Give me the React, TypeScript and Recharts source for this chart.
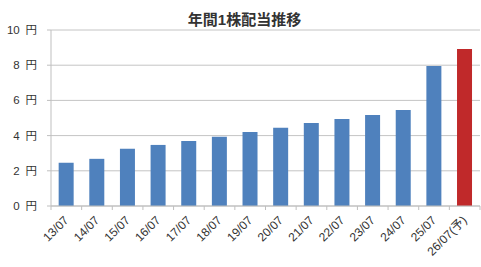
import React from "react";
import { BarChart, Bar, XAxis, YAxis, CartesianGrid, Cell } from "recharts";

const categories = ["13/07", "14/07", "15/07", "16/07", "17/07", "18/07", "19/07", "20/07", "21/07", "22/07", "23/07", "24/07", "25/07", "26/07(予)"];
const dividends = [2.46, 2.68, 3.25, 3.47, 3.7, 3.93, 4.2, 4.44, 4.72, 4.95, 5.17, 5.46, 7.95, 8.92];
const forecastFlags = [false, false, false, false, false, false, false, false, false, false, false, false, false, true];
const yTicks = [0, 2, 4, 6, 8, 10];

const data = categories.map((c, i) => ({ name: c, value: dividends[i], forecast: forecastFlags[i] }));

const W = 481;
const H = 267;
const Y_AXIS_W = 51;
const MARGIN_RIGHT = 1;
const BAND = (W - Y_AXIS_W - MARGIN_RIGHT) / categories.length;
const FONT = "'Liberation Sans', 'Noto Sans CJK JP', sans-serif";

const XTick = (props: any) => {
  const { x, y, payload, index } = props;
  const axisY = y;
  const tx = x + 3;
  const ty = axisY + 15;
  return (
    <g>
      <line x1={x - BAND / 2} y1={axisY} x2={x - BAND / 2} y2={axisY + 4} stroke="#bfbfbf" />
      {index === categories.length - 1 && (
        <line x1={x + BAND / 2} y1={axisY} x2={x + BAND / 2} y2={axisY + 4} stroke="#bfbfbf" />
      )}
      <text
        x={tx}
        y={ty}
        textAnchor="end"
        transform={`rotate(-45, ${tx}, ${ty})`}
        fontSize={12}
        fill="#333"
        fontFamily={FONT}
      >
        {payload.value}
      </text>
    </g>
  );
};

export default function App() {
  return (
    <div style={{ position: "absolute", left: 0, top: 0, width: W, height: H, background: "#fff" }}>
      <div
        style={{
          position: "absolute",
          left: 4,
          top: 11,
          width: W,
          textAlign: "center",
          fontFamily: FONT,
          fontWeight: "bold",
          fontSize: 15,
          lineHeight: "18px",
          color: "#333",
        }}
      >
        年間1株配当推移
      </div>
      <BarChart
        width={W}
        height={H}
        data={data}
        margin={{ top: 30, right: MARGIN_RIGHT, bottom: 0, left: 0 }}
        barCategoryGap="25%"
      >
        <CartesianGrid vertical={false} stroke="#c4c4c4" strokeWidth={1} />
        <XAxis
          dataKey="name"
          height={61}
          axisLine={{ stroke: "#bfbfbf" }}
          tickLine={false}
          tickSize={0}
          interval={0}
          tick={<XTick />}
          tickMargin={0}
        />
        <YAxis
          width={Y_AXIS_W}
          domain={[0, 10]}
          ticks={yTicks}
          interval={0}
          axisLine={{ stroke: "#bfbfbf" }}
          tickLine={{ stroke: "#bfbfbf" }}
          tickSize={4}
          tickMargin={10}
          tickFormatter={(v: number) => `${v}\u2002円`}
          tick={{ fontSize: 11.5, fill: "#333", fontFamily: FONT }}
        />
        <Bar dataKey="value" isAnimationActive={false}>
          {data.map((d, i) => (
            <Cell key={i} fill={d.forecast ? "#c0292a" : "#4f81bd"} />
          ))}
        </Bar>
      </BarChart>
    </div>
  );
}
